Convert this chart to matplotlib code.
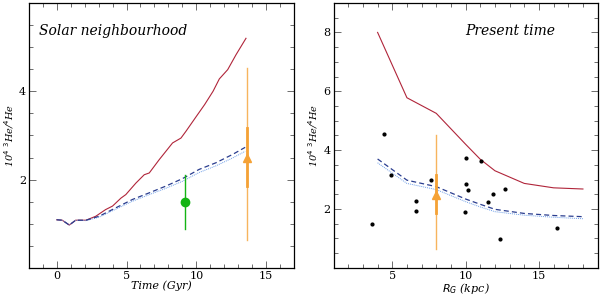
import numpy as np
import matplotlib
matplotlib.use("Agg")
import matplotlib.pyplot as plt
from matplotlib.ticker import MultipleLocator, FixedLocator

# --- left panel: solar neighbourhood vs time
t_red = [0.0, 0.4, 0.9, 1.36, 2.1, 2.8, 3.5, 4.0, 4.6, 4.95, 5.67, 6.27, 6.63, 7.34,
         8.3, 8.9, 9.25, 10.0, 10.6, 11.2, 11.65, 12.25, 12.85, 13.56]
he_red = [1.09, 1.08, 0.97, 1.08, 1.08, 1.17, 1.32, 1.40, 1.58, 1.66, 1.92, 2.11, 2.15, 2.45,
          2.83, 2.94, 3.09, 3.43, 3.70, 4.00, 4.28, 4.49, 4.83, 5.20]
t_blue = [0.0, 0.4, 0.9, 1.36, 2.1, 3.04, 4.23, 5.43, 6.63, 7.8, 9.0, 10.2, 11.4, 12.6, 13.5]
he_dash = [1.09, 1.08, 0.97, 1.08, 1.08, 1.17, 1.36, 1.55, 1.70, 1.85, 2.02, 2.23, 2.38, 2.57, 2.73]
he_dot = [1.09, 1.08, 0.97, 1.08, 1.07, 1.15, 1.33, 1.51, 1.66, 1.80, 1.96, 2.16, 2.31, 2.49, 2.64]

sun_t, sun_he, sun_lo, sun_hi = 9.16, 1.50, 0.87, 2.11
ism_t, ism_he = 13.6, 2.48
ism_in_lo, ism_in_hi = 1.85, 3.17
ism_out_lo, ism_out_hi = 0.64, 4.53

# --- right panel: present-day gradient
r_mod = [4, 6, 8, 10, 11, 12, 14, 16, 18]
r_red = [8.0, 5.78, 5.25, 4.2, 3.69, 3.3, 2.87, 2.72, 2.68]
r_dash = [3.70, 2.98, 2.76, 2.34, 2.16, 1.99, 1.85, 1.78, 1.74]
r_dot = [3.57, 2.87, 2.66, 2.25, 2.07, 1.91, 1.79, 1.72, 1.67]

hii_r = [3.59, 4.43, 4.93, 6.64, 6.64, 7.64, 9.93, 10.05, 10.05, 10.16, 11.05, 11.55,
         11.84, 12.34, 12.66, 16.25]
hii_he = [1.50, 4.55, 3.17, 2.28, 1.94, 2.97, 1.89, 3.74, 2.86, 2.65, 3.62, 2.24,
          2.50, 0.98, 2.69, 1.34]
ism_r = 8.0

red = "#b0253a"
dblue = "#2a3d8f"
lblue = "#6f9fe8"
orange = "#f5a236"
green = "#14b414"

plt.rcParams["font.family"] = "DejaVu Serif"
fig = plt.figure(figsize=(6, 2.97), dpi=100)
ax1 = fig.add_axes([0.048, 0.098, 0.442, 0.892])
ax2 = fig.add_axes([0.556, 0.098, 0.440, 0.892])

ax1.plot(t_red, he_red, color=red, lw=0.8)
ax1.plot(t_blue, he_dot, color=lblue, lw=0.7, ls=(0, (1, 1)))
ax1.plot(t_blue, he_dash, color=dblue, lw=0.9, ls=(0, (4, 2.5)))
ax1.plot([sun_t, sun_t], [sun_lo, sun_hi], color=green, lw=1.0)
ax1.plot(sun_t, sun_he, "o", color=green, ms=6)
ax1.plot([ism_t, ism_t], [ism_out_lo, ism_out_hi], color=orange, lw=1.0, alpha=0.8)
ax1.plot([ism_t, ism_t], [ism_in_lo, ism_in_hi], color=orange, lw=2.0)
ax1.plot(ism_t, ism_he, "^", color=orange, ms=6)
ax1.set_xlim(-2, 17)
ax1.set_ylim(0, 6)
ax1.xaxis.set_major_locator(FixedLocator([0, 5, 10, 15]))
ax1.xaxis.set_minor_locator(MultipleLocator(1))
ax1.yaxis.set_major_locator(FixedLocator([2, 4]))
ax1.yaxis.set_minor_locator(MultipleLocator(0.5))
ax1.set_xlabel("Time (Gyr)", style="italic", fontsize=8, labelpad=0)
ax1.set_ylabel(r"10$^4$ $^3$He/$^4$He", style="italic", fontsize=7, labelpad=2)
ax1.text(0.04, 0.88, "Solar neighbourhood", transform=ax1.transAxes,
         style="italic", fontsize=10)

ax2.plot(r_mod, r_red, color=red, lw=0.8)
ax2.plot(r_mod, r_dot, color=lblue, lw=0.7, ls=(0, (1, 1)))
ax2.plot(r_mod, r_dash, color=dblue, lw=0.9, ls=(0, (4, 2.5)))
ax2.plot(hii_r, hii_he, "o", color="black", ms=2)
ax2.plot([ism_r, ism_r], [ism_out_lo, ism_out_hi], color=orange, lw=1.0, alpha=0.8)
ax2.plot([ism_r, ism_r], [ism_in_lo, ism_in_hi], color=orange, lw=2.0)
ax2.plot(ism_r, ism_he, "^", color=orange, ms=6)
ax2.set_xlim(1, 19)
ax2.set_ylim(0, 9)
ax2.xaxis.set_major_locator(FixedLocator([5, 10, 15]))
ax2.xaxis.set_minor_locator(MultipleLocator(1))
ax2.yaxis.set_major_locator(FixedLocator([2, 4, 6, 8]))
ax2.yaxis.set_minor_locator(MultipleLocator(0.5))
ax2.set_xlabel(r"$R_G$ (kpc)", style="italic", fontsize=8, labelpad=0)
ax2.set_ylabel(r"10$^4$ $^3$He/$^4$He", style="italic", fontsize=7, labelpad=3)
ax2.text(0.5, 0.88, "Present time", transform=ax2.transAxes,
         style="italic", fontsize=10)

for ax in (ax1, ax2):
    ax.tick_params(which="both", direction="in", top=True, right=True, labelsize=8,
                   width=0.6, color="#555555", pad=2)
    ax.tick_params(which="major", length=5)
    ax.tick_params(which="minor", length=3)
    for s in ax.spines.values():
        s.set_linewidth(0.9)

fig.savefig("out.png", dpi=100)
